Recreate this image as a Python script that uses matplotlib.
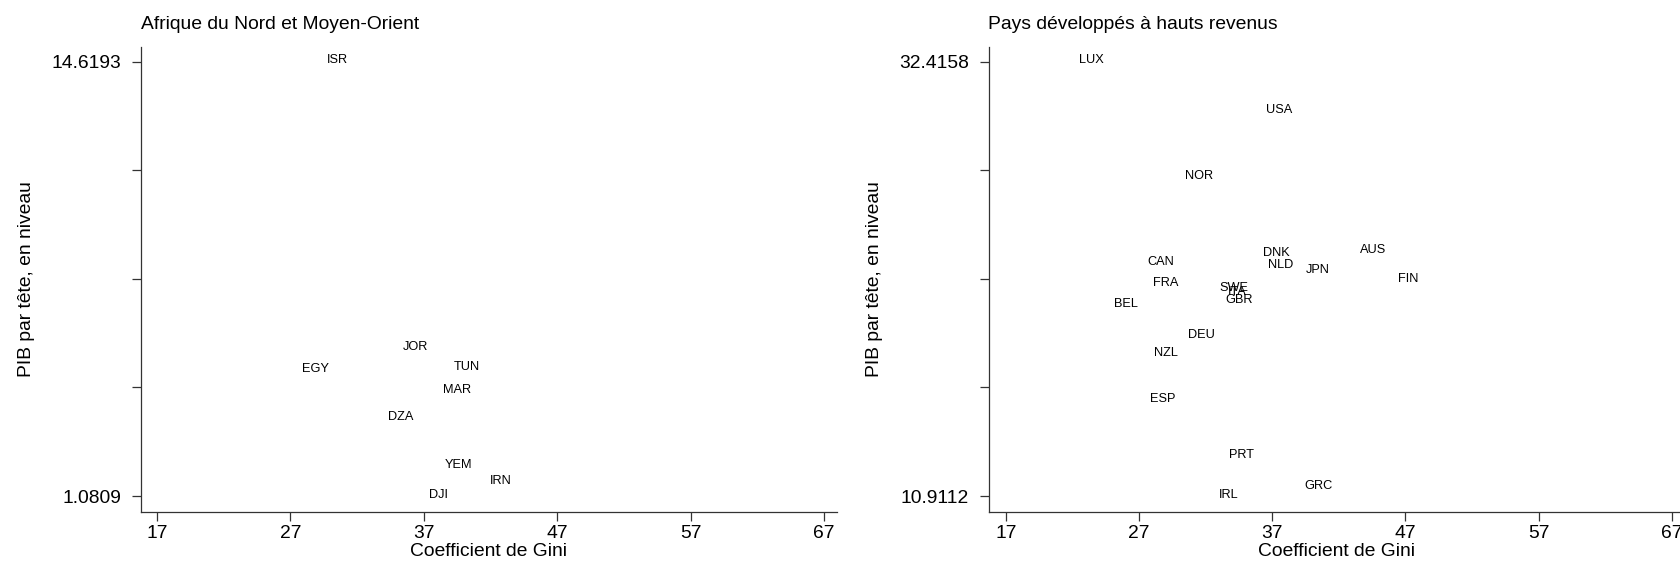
import matplotlib
matplotlib.use('Agg')
import matplotlib.pyplot as plt

plt.rcParams['font.family'] = ['Liberation Sans', 'DejaVu Sans']

# Afrique du Nord et Moyen-Orient
mena_codes = ['ISR', 'JOR', 'EGY', 'TUN', 'MAR', 'DZA', 'YEM', 'IRN', 'DJI']
mena_gini = [30.5, 36.4, 28.9, 40.2, 39.5, 35.3, 39.6, 42.8, 38.1]
mena_gdp = [14.6193, 5.69, 5.01, 5.07, 4.34, 3.50, 2.02, 1.52, 1.0809]

# Pays développés à hauts revenus
hi_codes = ['LUX', 'USA', 'NOR', 'DNK', 'AUS', 'NLD', 'CAN', 'JPN', 'FIN', 'FRA',
            'SWE', 'ITA', 'GBR', 'BEL', 'DEU', 'NZL', 'ESP', 'PRT', 'GRC', 'IRL']
hi_gini = [23.4, 37.5, 31.5, 37.3, 44.6, 37.6, 28.6, 40.4, 47.2, 29.0,
           34.1, 34.4, 34.5, 26.0, 31.7, 29.0, 28.8, 34.7, 40.5, 33.7]
hi_gdp = [32.4158, 29.94, 26.66, 22.89, 23.02, 22.30, 22.41, 22.01, 21.58, 21.37,
          21.12, 20.93, 20.55, 20.36, 18.83, 17.91, 15.65, 12.87, 11.36, 10.9112]

x_ticks = [17, 27, 37, 47, 57, 67]

panels = [
    ('Afrique du Nord et Moyen-Orient', mena_codes, mena_gini, mena_gdp,
     [141 / 1680, 0.088, 696 / 1680, 0.829], (15.80, 67.97)),
    ('Pays développés à hauts revenus', hi_codes, hi_gini, hi_gdp,
     [988.5 / 1680, 0.088, 696 / 1680, 0.829], (15.70, 67.95)),
]

fig = plt.figure(figsize=(16.8, 5.61), dpi=100)

for title, codes, gini, gdp, pos, xlim in panels:
    ax = fig.add_axes(pos)
    lo, hi = min(gdp), max(gdp)
    step = (hi - lo) / 4
    pad_bottom = (hi - lo) * 15.6 / 434.5
    pad_top = (hi - lo) * 15.0 / 434.5
    ax.set_ylim(lo - pad_bottom, hi + pad_top)
    ax.set_xlim(*xlim)

    ax.scatter(gini, gdp, s=0)
    for code, x, y in zip(codes, gini, gdp):
        ax.annotate(code, (x, y), xytext=(0, 1.0), textcoords='offset points',
                    ha='center', va='center', fontsize=9.2)

    yt = [lo + k * step for k in range(5)]
    ax.set_yticks(yt)
    ax.set_yticklabels([f'{lo:.4f}', '', '', '', f'{hi:.4f}'])
    ax.set_xticks(x_ticks)
    ax.tick_params(labelsize=13.9, length=6.5, width=0.9, color='#333333')
    ax.tick_params(axis='x', pad=3)
    ax.tick_params(axis='y', pad=7.5)

    for side in ['top', 'right']:
        ax.spines[side].set_visible(False)
    for side in ['left', 'bottom']:
        ax.spines[side].set_color('#333333')
        ax.spines[side].set_linewidth(0.9)

    ax.set_xlabel('Coefficient de Gini', fontsize=13.9, labelpad=1)
    ax.set_ylabel('PIB par tête, en niveau', fontsize=13.9, labelpad=12)
    ax.set_title(title, fontsize=13.9, loc='left', pad=13)

fig.savefig('out.png', dpi=100)
